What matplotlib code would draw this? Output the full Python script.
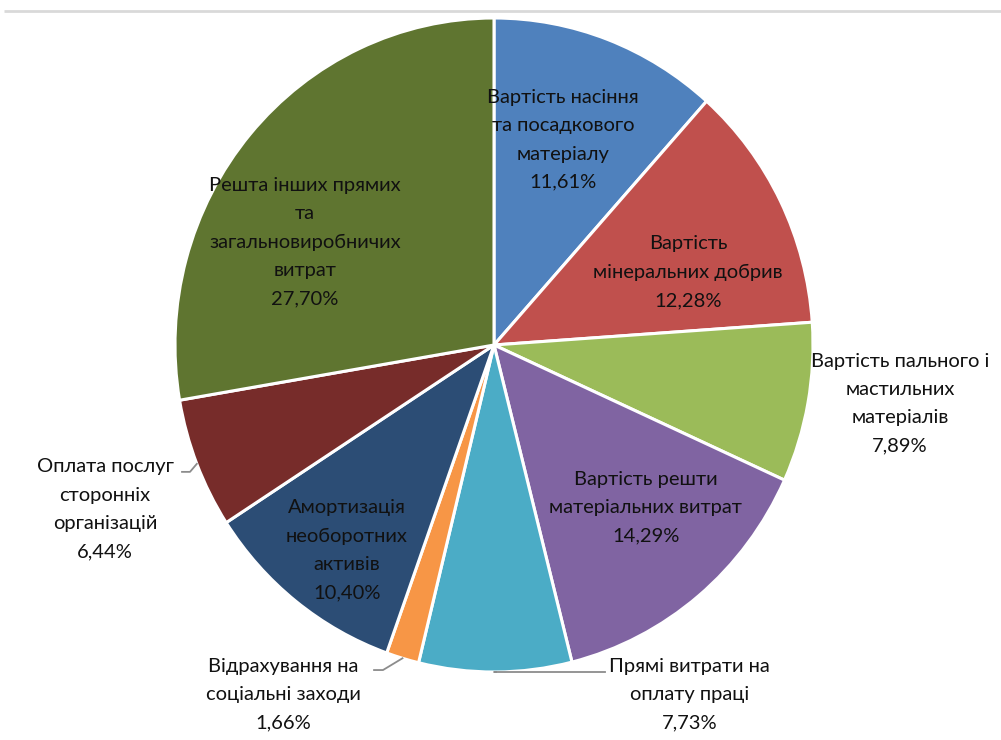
import matplotlib.pyplot as plt
import numpy as np

plt.rcParams['font.family'] = ['Lato', 'DejaVu Sans']

# data
labels = [
    "Вартість насіння\nта посадкового\nматеріалу",
    "Вартість\nмінеральних добрив",
    "Вартість пального і\nмастильних\nматеріалів",
    "Вартість решти\nматеріальних витрат",
    "Прямі витрати на\nоплату праці",
    "Відрахування на\nсоціальні заходи",
    "Амортизація\nнеоборотних\nактивів",
    "Оплата послуг\nсторонніх\nорганізацій",
    "Решта інших прямих\nта\nзагальновиробничих\nвитрат",
]
shares = [11.61, 12.28, 7.89, 14.29, 7.73, 1.66, 10.40, 6.44, 27.70]
colors = ["#4F81BD", "#C0504D", "#9BBB59", "#8064A2", "#4BACC6",
          "#F79646", "#2C4D75", "#772C2A", "#5F7530"]

# layout: label centres in pie-radius units, leader elbows/ends for outside labels
label_xy = [(0.216, 0.627), (0.608, 0.223), (1.273, -0.18), (0.476, -0.498),
            (0.614, -1.07), (-0.661, -1.07), (-0.461, -0.627), (-1.219, -0.502),
            (-0.592, 0.315)]
leaders = {4: [(0.0, -1.0), (0.348, -1.0)],
           5: [(-0.348, -0.994), (-0.376, -0.994)],
           7: [(-0.953, -0.388), (-0.978, -0.388)]}

fig = plt.figure(figsize=(10.01, 7.40), dpi=100)
ax = fig.add_axes([0, 0, 1, 1])
wedges, _ = ax.pie(shares, colors=colors, startangle=90, counterclock=False,
                   radius=1, wedgeprops=dict(edgecolor="white", linewidth=2.2))
ax.set_aspect('auto')
ax.set_xlim(-494 / 319, 507 / 319)
ax.set_ylim(-395 / 327, 345 / 327)
ax.axis('off')

# thin grey frame line at the top
ax.plot([-1.536, 2.0], [1.021, 1.021], color="#d9d9d9", linewidth=2, solid_capstyle='butt')

for i, (w, lab, val) in enumerate(zip(wedges, labels, shares)):
    txt = lab + "\n" + f"{val:.2f}%".replace(".", ",")
    x, y = label_xy[i]
    ax.text(x, y, txt, ha='center', va='center', fontsize=14.5, color="#111111",
            linespacing=1.8, multialignment='center')
    if i in leaders:
        mid = np.deg2rad((w.theta1 + w.theta2) / 2)
        pts = [(np.cos(mid), np.sin(mid))] + leaders[i]
        xs, ys = zip(*pts)
        ax.plot(xs, ys, color="#8c8c8c", linewidth=1.3)

fig.savefig("out.png", dpi=100)
